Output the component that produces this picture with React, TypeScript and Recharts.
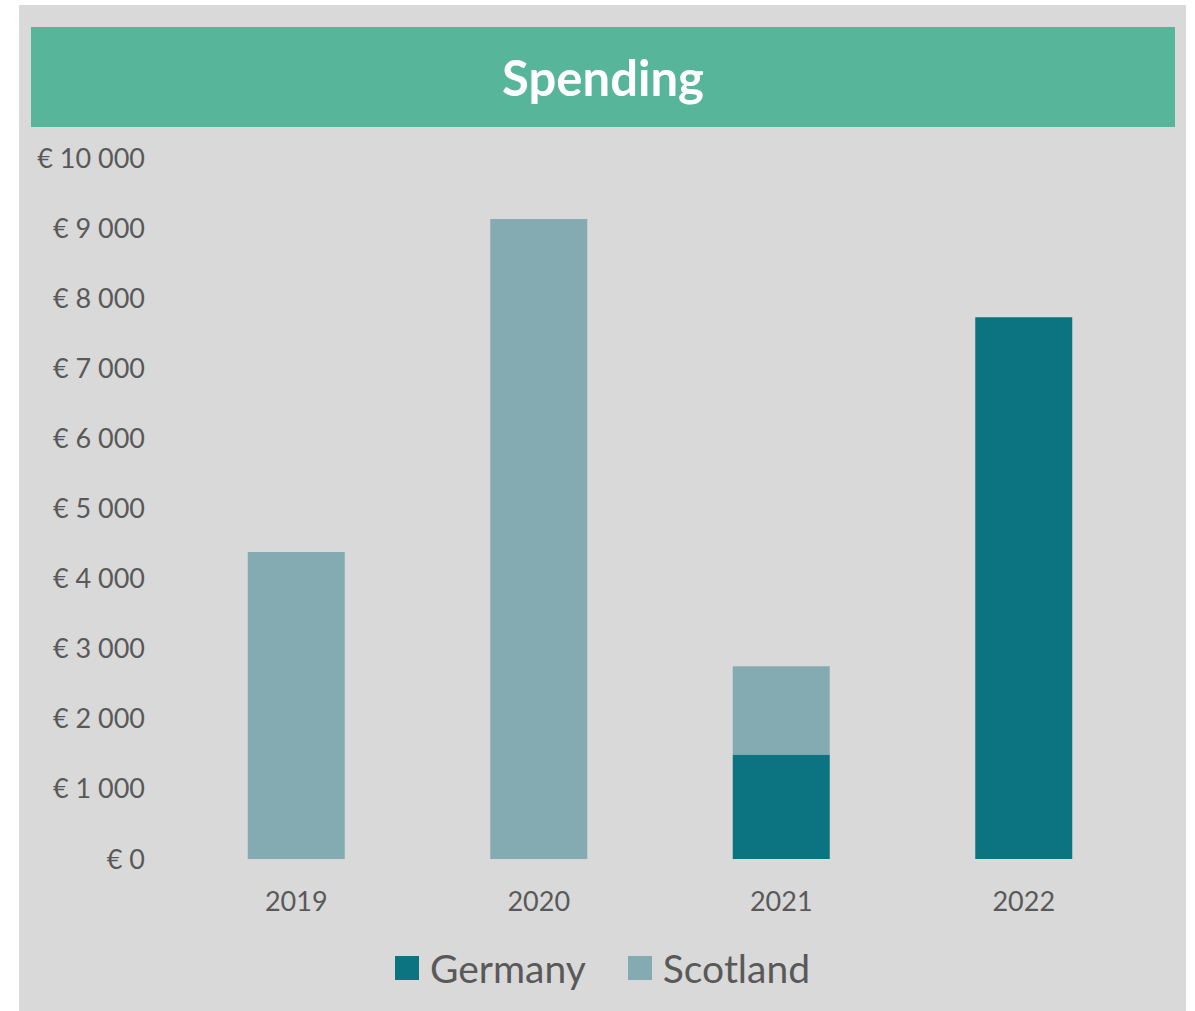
import React from "react"
import { Bar, BarChart, Legend, XAxis, YAxis } from "recharts"

const years = ["2019", "2020", "2021", "2022"]
const germany = [0, 0, 1490, 7730]
const scotland = [4380, 9130, 1260, 0]
const yTicks = [0, 1000, 2000, 3000, 4000, 5000, 6000, 7000, 8000, 9000, 10000]

const data = years.map((year, i) => ({ year, germany: germany[i], scotland: scotland[i] }))

const FONT = "Lato, 'Open Sans', sans-serif"
const TEXT = "#595959"
const GERMANY = "#0b7480"
const SCOTLAND = "#85abb2"

const euro = (v: number) => "€ " + String(v).replace(/\B(?=(\d{3})+(?!\d))/g, " ")

function LegendBox() {
  const items = [
    { name: "Germany", color: GERMANY },
    { name: "Scotland", color: SCOTLAND },
  ]
  return (
    <div
      style={{
        display: "flex",
        justifyContent: "center",
        gap: 42,
        paddingLeft: 41,
        fontFamily: FONT,
        fontSize: 39,
        color: TEXT,
      }}
    >
      {items.map((it) => (
        <div key={it.name} style={{ display: "flex", alignItems: "center" }}>
          <span style={{ width: 24, height: 24, background: it.color, marginRight: 11, display: "inline-block" }} />
          <span>{it.name}</span>
        </div>
      ))}
    </div>
  )
}

export default function App() {
  return (
    <div style={{ position: "absolute", left: 19, top: 5, width: 1167, height: 1006, background: "#d9d9d9" }}>
      <div
        style={{
          position: "absolute",
          left: 12,
          top: 22,
          width: 1144,
          height: 100,
          background: "#57b59a",
          color: "#fff",
          fontFamily: FONT,
          fontWeight: 700,
          fontSize: 49,
          display: "flex",
          alignItems: "center",
          justifyContent: "center",
        }}
      >
        Spending
      </div>
      <BarChart
        width={1167}
        height={1006}
        data={data}
        margin={{ top: 153, right: 41, left: 0, bottom: 20 }}
        barCategoryGap="30%"
      >
        <YAxis
          width={156}
          domain={[0, 10000]}
          ticks={yTicks}
          tickFormatter={euro}
          axisLine={false}
          tickLine={false}
          tickSize={0}
          tickMargin={30}
          tick={{ fill: TEXT, fontSize: 27, fontFamily: FONT }}
          interval={0}
        />
        <XAxis
          dataKey="year"
          axisLine={false}
          tickLine={false}
          tickSize={0}
          tickMargin={33}
          height={86}
          tick={{ fill: TEXT, fontSize: 27, fontFamily: FONT }}
        />
        <Legend verticalAlign="bottom" content={() => <LegendBox />} />
        <Bar dataKey="germany" name="Germany" stackId="a" fill={GERMANY} isAnimationActive={false} />
        <Bar dataKey="scotland" name="Scotland" stackId="a" fill={SCOTLAND} isAnimationActive={false} />
      </BarChart>
    </div>
  )
}
